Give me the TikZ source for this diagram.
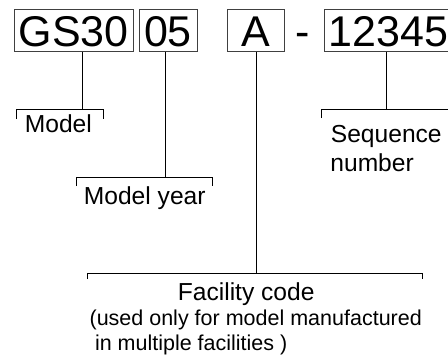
\documentclass[tikz,border=0pt]{standalone}
\usepackage{fontspec}
\setmainfont{Liberation Sans}
\newcommand{\codefont}{\fontsize{43}{43}\selectfont}
\newcommand{\labelfont}{\fontsize{24.6}{24.6}\selectfont}
\newcommand{\notefont}{\fontsize{21.5}{21.5}\selectfont}

\begin{document}
\begin{tikzpicture}[x=1pt, y=-1pt, line width=0.8pt,
        codebox/.style={draw=black!75, font=\codefont, inner sep=0pt,
            minimum height=42pt, text height=32pt, text depth=0pt},
        lbl/.style={font=\labelfont, inner sep=0pt, anchor=base west}]
            \clip (0,0) rectangle (448,362);

            \node[codebox, minimum width=119pt] (gs) at (73.8,30.2) {GS30};
            \node[codebox, minimum width=58pt] (yr) at (168,30.2) {05};
            \node[codebox, minimum width=57pt] (fac) at (255.5,30.2) {A};
            \node[font=\codefont, inner sep=0pt, anchor=base] (dash) at (303,46.2) {-};
            \node[codebox, minimum width=129pt] (seq) at (388.5,30.2) {12345};

            \coordinate (mdl) at (82.7,109);
            \coordinate (myr) at (165,177);
            \coordinate (fcd) at (256.7,273);
            \coordinate (sqn) at (386,109);

            \draw (gs.south -| mdl) -- (mdl);
            \draw (yr.south -| myr) -- (myr);
            \draw (fac.south -| fcd) -- (fcd);
            \draw (seq.south -| sqn) -- (sqn);

            \foreach \l/\r/\y/\t in {16/103.3/109/10,76.7/212.7/177/9,87.3/422.7/273/6,321/470/109/9} {
                \draw (\l,\y+\t) -- (\l,\y) -- (\r,\y) -- (\r,\y+\t);
            }

            \node[lbl] (model) at (24.5,132) {Model};
            \node[lbl] (year) at (83.5,204) {Model year};
            \node[lbl] (seq1) at (330.5,142) {Sequence};
            \node[lbl] (seq2) at (330,171) {number};
            \node[lbl, anchor=base] (facility) at (246.2,300.5) {Facility code};
            \node[lbl, font=\notefont] (note1) at (89.2,325) {(used only for model manufactured};
            \node[lbl, font=\notefont] (note2) at (94.6,350.7) {in multiple facilities )};
        \end{tikzpicture}
\end{document}
